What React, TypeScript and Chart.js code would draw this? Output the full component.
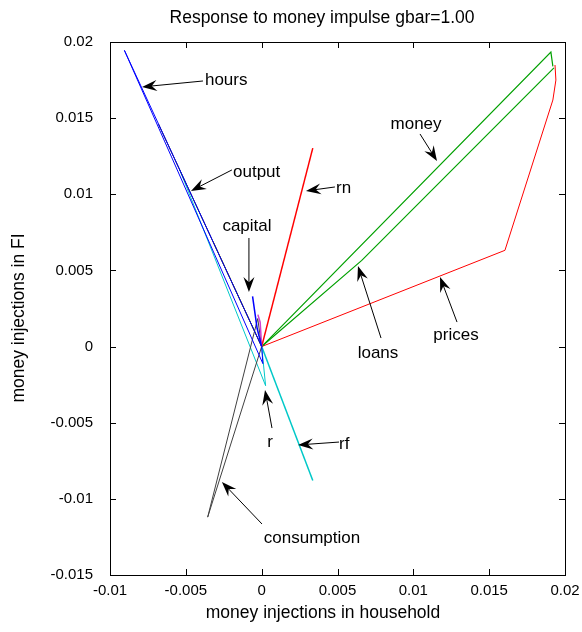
import React, { useEffect, useRef } from "react";
import { Chart, registerables } from "chart.js";

Chart.register(...registerables);

// ---- data ----
const xTicks = [-0.01, -0.005, 0, 0.005, 0.01, 0.015, 0.02];
const xTickLabels = ["-0.01", "-0.005", "0", "0.005", "0.01", "0.015", "0.02"];
const yTicks = [-0.015, -0.01, -0.005, 0, 0.005, 0.01, 0.015, 0.02];
const yTickLabels = ["-0.015", "-0.01", "-0.005", "0", "0.005", "0.01", "0.015", "0.02"];

const hoursX = [-0.00905, 0.00008, 0];
const hoursY = [0.01945, -0.00112, 0];
const outputX = [-0.00905, 0];
const outputY = [0.01945, 0];
const outputKX = [-0.0068, 0];
const outputKY = [0.0146, 0];
const outputYelX = [-0.0032, 0];
const outputYelY = [0.0069, 0];
const capitalX = [-0.0006, -0.0003, 0];
const capitalY = [0.0033, 0.0012, 0];
const magentaX = [-0.00025, -0.0001, 0];
const magentaY = [0.0021, 0.0016, 0];
const rX = [-0.0054, 0.00026, 0];
const rY = [0.0116, -0.00257, 0];
const rfX = [0, 0.00337];
const rfY = [0, -0.0088];
const rnX = [0, 0.00337];
const rnY = [0, 0.01303];
const moneyX = [0, 0.01907, 0.0192];
const moneyY = [0, 0.01934, 0.0184];
const loansX = [0, 0.0066, 0.01927];
const loansY = [0, 0.00566, 0.0183];
const pricesX = [0, 0.01604, 0.0192, 0.0194, 0.01934];
const pricesY = [0, 0.00632, 0.01619, 0.0175, 0.01849];
const consumptionX = [0, -0.00356, -0.00026, 0];
const consumptionY = [0, -0.0112, 0.00184, 0];

// annotation labels: text, text position, arrow tail, arrow tip (data units)
const annLabels = ["hours", "output", "capital", "rn", "money", "loans", "prices", "r", "rf", "consumption"];
const annTextX = [-0.00374, -0.00189, -0.00097, 0.0049, 0.01018, 0.00767, 0.01281, 0.00055, 0.0051, 0.00332];
const annTextY = [0.01757, 0.01153, 0.00798, 0.01048, 0.01468, -0.00036, 0.00083, -0.0062, -0.00633, -0.0125];
const annAlign = ["left", "left", "center", "left", "center", "center", "center", "center", "left", "center"];
const annTailX = [-0.00387, -0.00196, -0.00084, 0.00483, 0.01044, 0.00787, 0.01288, 0.00068, 0.0051, 0.00002];
const annTailY = [0.01744, 0.0116, 0.00713, 0.01048, 0.01396, 0.00056, 0.00161, -0.00535, -0.00627, -0.01165];
const annTipX = [-0.00789, -0.00466, -0.00084, 0.00292, 0.01156, 0.00635, 0.01176, 0.00022, 0.0024, -0.00262];
const annTipY = [0.01705, 0.01022, 0.00358, 0.01022, 0.01219, 0.00529, 0.00457, -0.00285, -0.00646, -0.00889];

const FONT = "'Liberation Sans', Arial, sans-serif";

function pts(xs: number[], ys: number[]) {
  return xs.map((x, i) => ({ x, y: ys[i] }));
}

const decorPlugin = {
  id: "decor",
  afterDraw(chart: any) {
    const { ctx, chartArea: a, scales } = chart;
    const xs = scales.x;
    const ys = scales.y;
    ctx.save();
    // box
    ctx.strokeStyle = "#000";
    ctx.lineWidth = 1;
    ctx.strokeRect(Math.round(a.left) + 0.5, Math.round(a.top) + 0.5, Math.round(a.right - a.left), Math.round(a.bottom - a.top));
    // inward ticks
    const tl = 6;
    ctx.beginPath();
    xTicks.forEach((v) => {
      const px = Math.round(xs.getPixelForValue(v)) + 0.5;
      ctx.moveTo(px, a.bottom);
      ctx.lineTo(px, a.bottom - tl);
      ctx.moveTo(px, a.top);
      ctx.lineTo(px, a.top + tl);
    });
    yTicks.forEach((v) => {
      const py = Math.round(ys.getPixelForValue(v)) + 0.5;
      ctx.moveTo(a.left, py);
      ctx.lineTo(a.left + tl, py);
      ctx.moveTo(a.right, py);
      ctx.lineTo(a.right - tl, py);
    });
    ctx.stroke();

    // titles
    ctx.fillStyle = "#000";
    ctx.font = `17.5px ${FONT}`;
    ctx.textAlign = "center";
    ctx.textBaseline = "middle";
    ctx.fillText("Response to money impulse gbar=1.00", 322, 18);
    ctx.fillText("money injections in household", 323, 613);
    ctx.save();
    ctx.translate(19, 318);
    ctx.rotate(-Math.PI / 2);
    ctx.font = `17.5px ${FONT}`;
    ctx.fillText("money injections in FI", 0, 0);
    ctx.restore();

    // annotations
    ctx.font = `17px ${FONT}`;
    annLabels.forEach((lab, i) => {
      const tx = xs.getPixelForValue(annTailX[i]);
      const ty = ys.getPixelForValue(annTailY[i]);
      const hx = xs.getPixelForValue(annTipX[i]);
      const hy = ys.getPixelForValue(annTipY[i]);
      const dx = hx - tx;
      const dy = hy - ty;
      const len = Math.hypot(dx, dy);
      const ux = dx / len;
      const uy = dy / len;
      const nx = -uy;
      const ny = ux;
      const L = 15;
      const W = 5.5;
      ctx.strokeStyle = "#000";
      ctx.lineWidth = 1;
      ctx.beginPath();
      ctx.moveTo(tx, ty);
      ctx.lineTo(hx - ux * L * 0.6, hy - uy * L * 0.6);
      ctx.stroke();
      ctx.beginPath();
      ctx.moveTo(hx, hy);
      ctx.lineTo(hx - ux * L + nx * W, hy - uy * L + ny * W);
      ctx.lineTo(hx - ux * L * 0.65, hy - uy * L * 0.65);
      ctx.lineTo(hx - ux * L - nx * W, hy - uy * L - ny * W);
      ctx.closePath();
      ctx.fillStyle = "#000";
      ctx.fill();
      ctx.textAlign = annAlign[i] as CanvasTextAlign;
      ctx.textBaseline = "middle";
      ctx.fillText(lab, xs.getPixelForValue(annTextX[i]), ys.getPixelForValue(annTextY[i]) + 1);
    });
    ctx.restore();
  },
};

export default function App() {
  const ref = useRef<HTMLCanvasElement | null>(null);
  useEffect(() => {
    document.body.style.margin = "0";
    const line = (data: any, color: string, width = 1, order = 0) => ({
      data,
      borderColor: color,
      backgroundColor: color,
      borderWidth: width,
      pointRadius: 0,
      showLine: true,
      tension: 0,
      fill: false,
      order,
    });
    const chart = new Chart(ref.current as HTMLCanvasElement, {
      type: "scatter",
      data: {
        datasets: [
          line(pts(outputYelX, outputYelY), "#e8e800", 1, 3),
          line(pts(outputKX, outputKY), "#000000", 1, 2),
          line(pts(rX, rY), "#00c8c8", 1, 2),
          line(pts(hoursX, hoursY), "#0000ff", 1, 1),
          line(pts(outputX, outputY), "#0000ff", 1, 1),
          line(pts(consumptionX, consumptionY), "#404040", 1, 1),
          line(pts(rfX, rfY), "#00c8c8", 1.5, 1),
          line(pts(capitalX, capitalY), "#0000ff", 1.5, 0),
          line(pts(magentaX, magentaY), "#d040d0", 1.5, 0),
          line(pts(rnX, rnY), "#ff0000", 1.5, 0),
          line(pts(moneyX, moneyY), "#00a000", 1.2, 0),
          line(pts(loansX, loansY), "#00a000", 1.2, 0),
          line(pts(pricesX, pricesY), "#ff0000", 1, 0),
        ],
      },
      options: {
        animation: false,
        responsive: false,
        maintainAspectRatio: false,
        layout: { padding: { left: 0, right: 17, top: 42, bottom: 0 } },
        plugins: { legend: { display: false }, tooltip: { enabled: false }, title: { display: false } },
        scales: {
          x: {
            type: "linear",
            min: -0.01,
            max: 0.02,
            afterBuildTicks: (s: any) => {
              s.ticks = xTicks.map((v) => ({ value: v }));
            },
            afterFit: (s: any) => {
              s.height = 57;
              s.paddingLeft = 0;
              s.paddingRight = 0;
            },
            ticks: {
              callback: (_v: any, i: number) => xTickLabels[i],
              font: { family: FONT, size: 15 },
              color: "#000",
              padding: 7,
              maxRotation: 0,
              autoSkip: false,
            },
            grid: { display: false, drawTicks: false },
            border: { display: false },
          },
          y: {
            type: "linear",
            min: -0.015,
            max: 0.02,
            afterBuildTicks: (s: any) => {
              s.ticks = yTicks.map((v) => ({ value: v }));
            },
            afterFit: (s: any) => {
              s.width = 110;
              s.paddingTop = 0;
              s.paddingBottom = 0;
            },
            ticks: {
              callback: (_v: any, i: number) => yTickLabels[i],
              font: { family: FONT, size: 15 },
              color: "#000",
              padding: 17,
              autoSkip: false,
            },
            grid: { display: false, drawTicks: false },
            border: { display: false },
          },
        },
      },
      plugins: [decorPlugin],
    });
    return () => chart.destroy();
  }, []);
  return (
    <div style={{ width: 582, height: 632 }}>
      <canvas ref={ref} width={582} height={632} style={{ display: "block" }} />
    </div>
  );
}
